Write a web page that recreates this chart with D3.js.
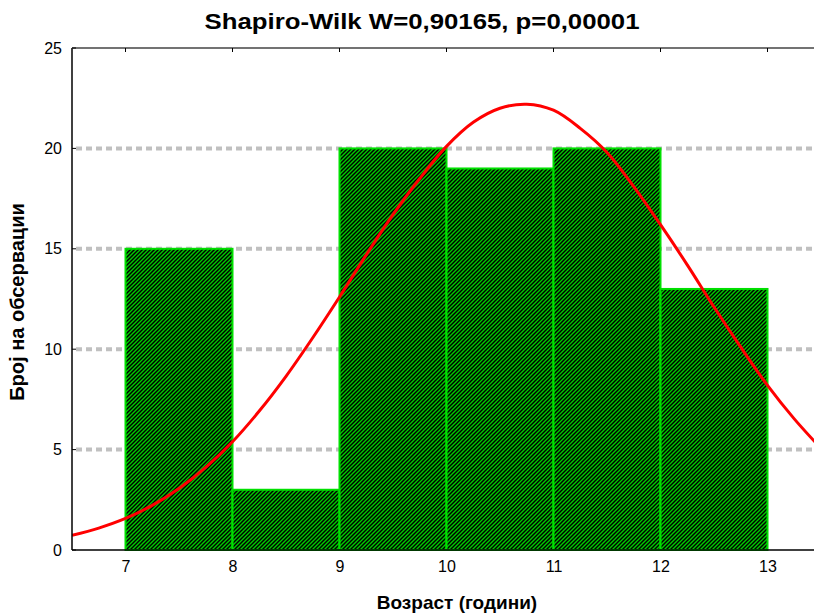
<!DOCTYPE html>
<html><head><meta charset="utf-8">
<script src="https://cdn.jsdelivr.net/npm/d3@7"></script>
<style>body{margin:0;background:#fff}svg{display:block}text{font-family:"Liberation Sans",Arial,sans-serif}</style>
</head><body><div id="c"></div>
<script>
const binStarts = [7, 8, 9, 10, 11, 12];
const counts = [15, 3, 20, 19, 20, 13];
const xTicks = [7, 8, 9, 10, 11, 12, 13];
const yTicks = [0, 5, 10, 15, 20, 25];
const gridVals = [5, 10, 15, 20];
const curveX = [6.5,6.75,7,7.25,7.5,7.75,8,8.25,8.5,8.75,9,9.25,9.5,9.75,10,10.25,10.5,10.75,11,11.25,11.5,11.75,12,12.25,12.5,12.75,13,13.25,13.5];
const curveY = [0.73,1.09,1.57,2.22,3.06,4.11,5.39,6.92,8.65,10.57,12.6,14.7,16.7,18.5,20.1,21.3,22.0,22.2,21.9,21.0,19.8,18.1,16.2,14.2,12.1,10.1,8.2,6.53,5.06];

const W = 814, H = 613;
const L = 72, T = 48, B = 550, R = 821;
const FONT = '"Liberation Sans",Arial,sans-serif';
const svg = d3.select("#c").append("svg").attr("width", W).attr("height", H);
const x = d3.scaleLinear().domain([6.5, 13.5]).range([L, R]);
const y = d3.scaleLinear().domain([0, 25]).range([B, T]);

const defs = svg.append("defs");
const pat = defs.append("pattern").attr("id", "hatch").attr("patternUnits", "userSpaceOnUse")
  .attr("width", 4).attr("height", 4);
pat.append("rect").attr("width", 4).attr("height", 4).attr("fill", "#00cc00");
pat.append("path").attr("d", "M-1,1 l2,-2 M0,4 l4,-4 M3,5 l2,-2")
  .attr("stroke", "#000").attr("stroke-width", 1.45);
defs.append("clipPath").attr("id", "clip").append("rect")
  .attr("x", L).attr("y", T).attr("width", W - L).attr("height", B - T);

// grid
svg.append("g").selectAll("line").data(gridVals).join("line")
  .attr("x1", L + 4).attr("x2", W).attr("y1", d => y(d)).attr("y2", d => y(d))
  .attr("stroke", "#c0c0c0").attr("stroke-width", 4).attr("stroke-dasharray", "6,4");

// bars
svg.append("g").selectAll("rect").data(binStarts).join("rect")
  .attr("x", d => x(d)).attr("width", d => x(d + 1) - x(d))
  .attr("y", (d, i) => y(counts[i])).attr("height", (d, i) => B - y(counts[i]))
  .attr("fill", "url(#hatch)").attr("stroke", "#00e000").attr("stroke-width", 2);

// curve
const line = d3.line().x(d => x(d[0])).y(d => y(d[1])).curve(d3.curveCatmullRom);
svg.append("path").datum(curveX.map((v, i) => [v, curveY[i]]))
  .attr("d", line).attr("fill", "none").attr("stroke", "#ff0000").attr("stroke-width", 3)
  .attr("clip-path", "url(#clip)");

// axes
const ax = svg.append("g");
ax.append("line").attr("x1", L).attr("x2", L).attr("y1", T).attr("y2", B).attr("stroke", "#000").attr("stroke-width", 1.5);
ax.append("line").attr("x1", L).attr("x2", W).attr("y1", B).attr("y2", B).attr("stroke", "#000").attr("stroke-width", 1.5);
ax.append("line").attr("x1", L).attr("x2", W).attr("y1", T).attr("y2", T).attr("stroke", "#444").attr("stroke-width", 1.5);

const yAxis = d3.axisLeft(y).tickValues(yTicks).tickFormat(d3.format("d")).tickSize(0).tickPadding(10);
const gy = svg.append("g").attr("transform", `translate(${L},0)`).call(yAxis);
gy.select(".domain").remove();
gy.selectAll("text").attr("font-size", 16).attr("fill", "#000").style("font-family", FONT);
svg.append("g").selectAll("line").data(yTicks).join("line")
  .attr("x1", L).attr("x2", L + 4).attr("y1", d => y(d)).attr("y2", d => y(d)).attr("stroke", "#000");

const xAxis = d3.axisBottom(x).tickValues(xTicks).tickFormat(d3.format("d")).tickSize(0).tickPadding(11);
const gx = svg.append("g").attr("transform", `translate(0,${B})`).call(xAxis);
gx.select(".domain").remove();
gx.selectAll("text").attr("font-size", 16).attr("fill", "#000").style("font-family", FONT);
svg.append("g").selectAll("line").data(xTicks).join("line")
  .attr("x1", d => x(d)).attr("x2", d => x(d)).attr("y1", T).attr("y2", T + 4).attr("stroke", "#000");

svg.append("text").attr("x", 422).attr("y", 29).attr("text-anchor", "middle")
  .attr("font-size", 22).attr("font-weight", "bold").attr("textLength", 435).attr("lengthAdjust", "spacingAndGlyphs")
  .text("Shapiro-Wilk W=0,90165, p=0,00001");
svg.append("text").attr("x", 457).attr("y", 609).attr("text-anchor", "middle")
  .attr("font-size", 19).attr("font-weight", "bold").text("Возраст (години)");
svg.append("text").attr("transform", "translate(24,302) rotate(-90)").attr("text-anchor", "middle")
  .attr("font-size", 20).attr("font-weight", "bold").text("Број на обсервации");
</script></body></html>
